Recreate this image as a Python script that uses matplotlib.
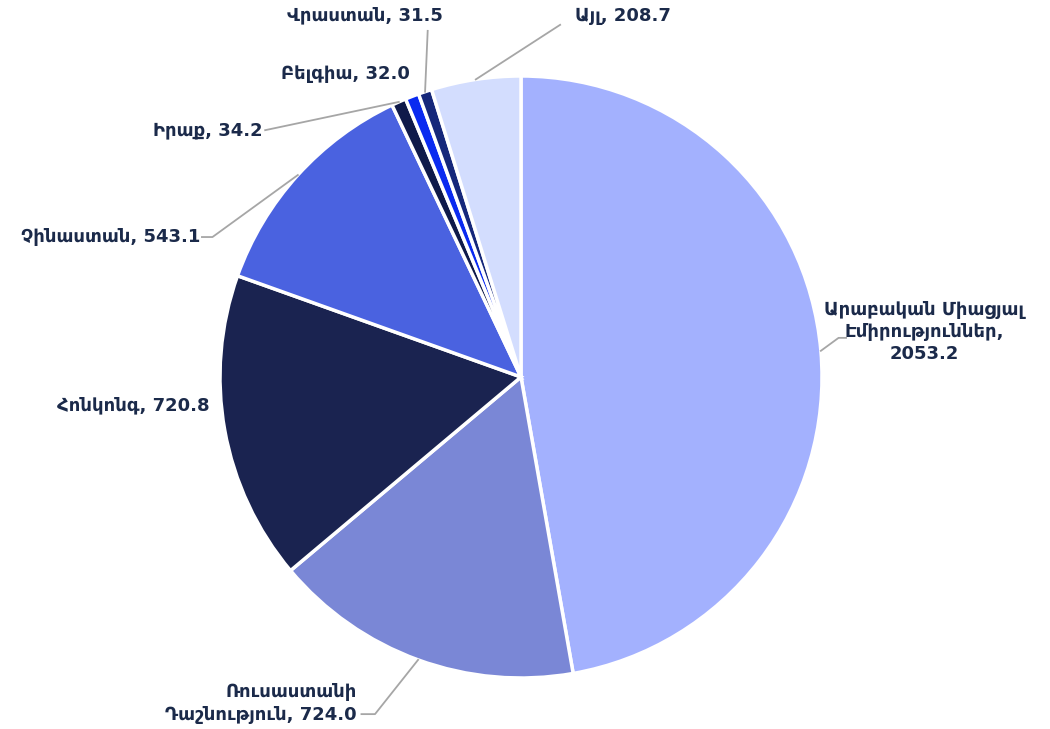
import numpy as np
import matplotlib.pyplot as plt

plt.rcParams['font.family'] = ['DejaVu Sans']

labels = ['Արաբական Միացյալ\nԷմիրություններ,\n2053.2', 'Ռուսաստանի\nԴաշնություն, 724.0',
          'Հոնկոնգ, 720.8', 'Չինաստան, 543.1', 'Իրաք, 34.2', 'Բելգիա, 32.0',
          'Վրաստան, 31.5', 'Այլ, 208.7']
values = [2053.2, 724.0, 720.8, 543.1, 34.2, 32.0, 31.5, 208.7]
colors = ['#a3b1fe', '#7a87d6', '#1a2350', '#4a62e0', '#0f1a4a', '#0a2af0', '#15277a', '#d3ddfe']

# label text anchor (axes data units, radius = 1) and alignment
text_pos = [(1.34, 0.15, 'center'), (-0.545, -1.085, 'right'), (-1.035, -0.095, 'right'),
            (-1.065, 0.465, 'right'), (-0.86, 0.82, 'right'), (-0.37, 1.005, 'right'),
            (-0.52, 1.2, 'center'), (0.18, 1.2, 'left')]

# leader lines: list of points after the wedge edge point (None = no line)
leaders = [[(1.055, 0.13), (1.08, 0.13)],
           [(-0.485, -1.12), (-0.53, -1.12)],
           None,
           [(-1.025, 0.465), (-1.06, 0.465)],
           [(-0.85, 0.82)],
           None,
           [(-0.31, 1.15)],
           [(0.13, 1.17)]]

fig = plt.figure(figsize=(10.5, 7.29), dpi=100)
ax = fig.add_axes([0, 0, 1, 1])
wedges, _ = ax.pie(values, colors=colors, startangle=90, counterclock=False,
                   radius=1.0, center=(0, 0),
                   wedgeprops=dict(edgecolor='white', linewidth=2.5))

for w, lab, (tx, ty, ha), ld in zip(wedges, labels, text_pos, leaders):
    ang = np.deg2rad((w.theta1 + w.theta2) / 2)
    ax.text(tx, ty, lab, ha=ha, va='center', fontsize=13, fontweight='bold',
            color='#1b2a4a', linespacing=1.3)
    if ld:
        xs = [np.cos(ang)] + [p[0] for p in ld]
        ys = [np.sin(ang)] + [p[1] for p in ld]
        ax.plot(xs, ys, color='#a6a6a6', lw=1.3)

ax.set_xlim(-521 / 301, (1050 - 521) / 301)
ax.set_ylim(-(729 - 377) / 301, 377 / 301)
ax.set_aspect('equal')
ax.axis('off')
fig.savefig('out.png', dpi=100)
